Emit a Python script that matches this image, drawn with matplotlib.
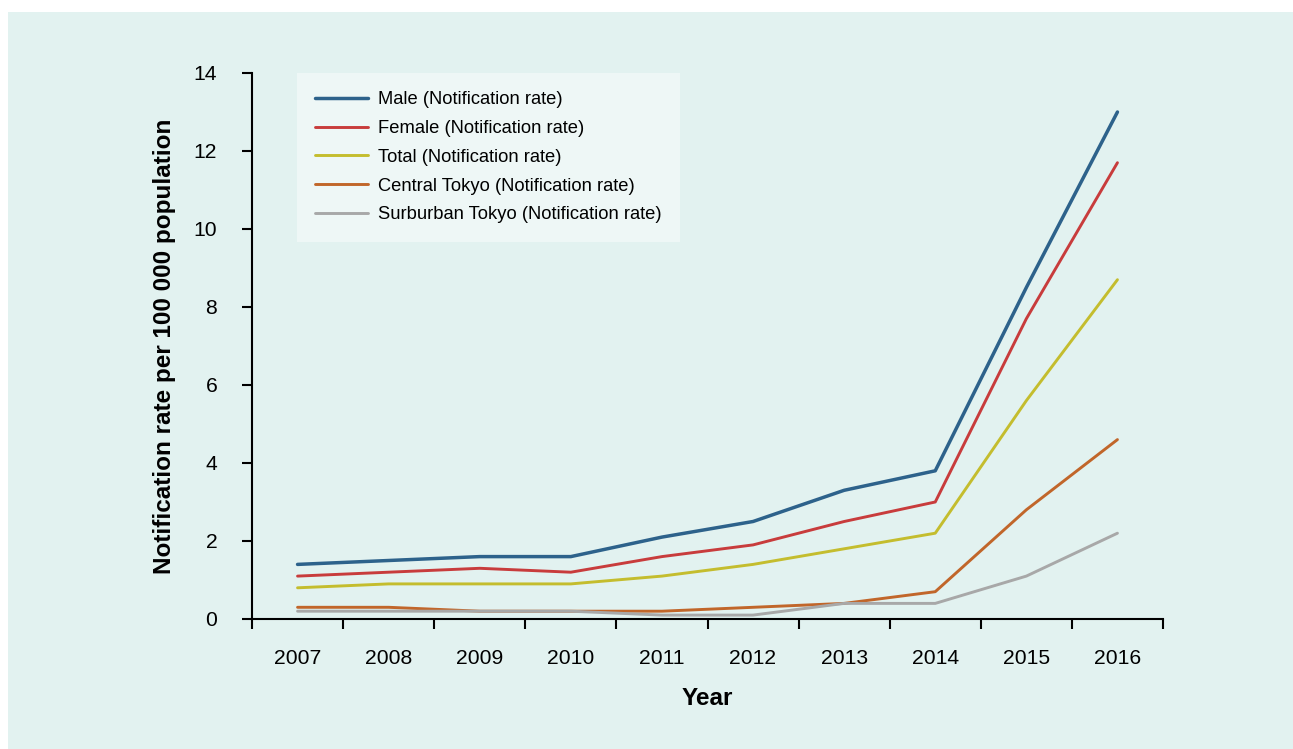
import numpy as np
import matplotlib
matplotlib.use('Agg')
import matplotlib.pyplot as plt
from matplotlib.patches import Rectangle

plt.rcParams['font.family'] = ['Liberation Sans', 'DejaVu Sans']

years = ['2007', '2008', '2009', '2010', '2011', '2012', '2013', '2014', '2015', '2016']
male = [1.4, 1.5, 1.6, 1.6, 2.1, 2.5, 3.3, 3.8, 8.5, 13.0]
female = [1.1, 1.2, 1.3, 1.2, 1.6, 1.9, 2.5, 3.0, 7.7, 11.7]
total = [0.8, 0.9, 0.9, 0.9, 1.1, 1.4, 1.8, 2.2, 5.6, 8.7]
central = [0.3, 0.3, 0.2, 0.2, 0.2, 0.3, 0.4, 0.7, 2.8, 4.6]
suburban = [0.2, 0.2, 0.2, 0.2, 0.1, 0.1, 0.4, 0.4, 1.1, 2.2]

series = [
    ('Male (Notification rate)', male, '#2d628b', 2.5),
    ('Female (Notification rate)', female, '#c83c3c', 2.1),
    ('Total (Notification rate)', total, '#c4bd2e', 2.1),
    ('Central Tokyo (Notification rate)', central, '#c1662a', 2.1),
    ('Surburban Tokyo (Notification rate)', suburban, '#a8a8a8', 2.1),
]

panel = '#e2f2f0'
fig = plt.figure(figsize=(12.93, 7.49), dpi=100, facecolor='white')
fig.patches.append(Rectangle((8 / 1293, 0), 1, 1 - 12 / 749, transform=fig.transFigure,
                             facecolor=panel, edgecolor='none', zorder=-10))

ax = fig.add_axes([252 / 1293, 1 - 619 / 749, (1163 - 252) / 1293, (619 - 73) / 749])
ax.set_facecolor(panel)

x = np.arange(len(years))
for label, vals, color, lw in series:
    ax.plot(x, vals, color=color, lw=lw, label=label, solid_capstyle='round')

ax.set_xlim(-0.5, len(years) - 0.5)
ax.set_ylim(0, 14)
ax.set_yticks(np.arange(0, 15, 2))
ax.set_xticks(np.arange(-0.5, len(years), 1))
ax.set_xticklabels([])
ax.set_xticks(x, minor=True)
ax.set_xticklabels(years, minor=True)
ax.tick_params(axis='x', which='major', direction='out', length=7, width=1.5)
ax.tick_params(axis='x', which='minor', length=0, pad=21.5, labelsize=15.2)
ax.tick_params(axis='y', direction='out', length=7, width=1.5, labelsize=15.2, pad=18)

for s in ['top', 'right']:
    ax.spines[s].set_visible(False)
for s in ['left', 'bottom']:
    ax.spines[s].set_linewidth(1.5)

ax.set_ylabel('Notification rate per 100 000 population', fontsize=17.5, fontweight='bold', labelpad=13)
ax.set_xlabel('Year', fontsize=17.5, fontweight='bold', labelpad=14)

leg = ax.legend(loc='upper left', bbox_to_anchor=(0.049, 1.0), borderaxespad=0,
                fontsize=13.2, frameon=True, fancybox=False, facecolor='#eef7f6',
                edgecolor='none', framealpha=1, borderpad=1.0, labelspacing=0.64,
                handlelength=2.9, handletextpad=0.55)

fig.savefig('out.png', dpi=100, facecolor=fig.get_facecolor())
